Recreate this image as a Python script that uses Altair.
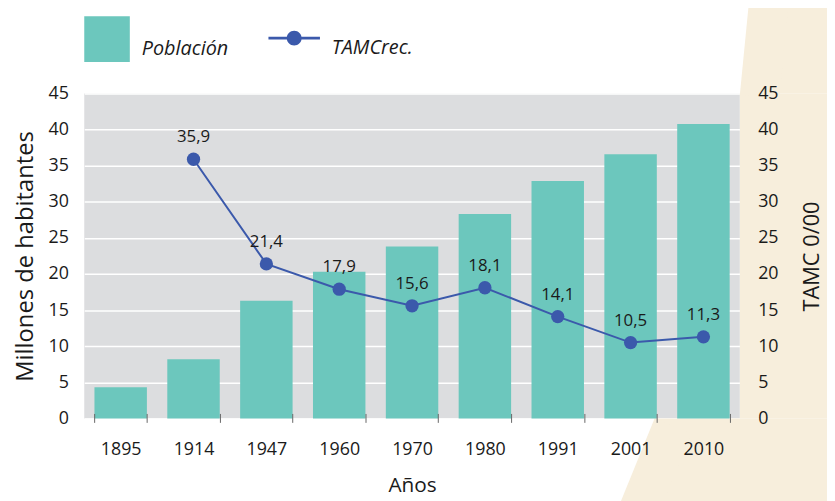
import altair as alt
import pandas as pd

# ---- data ----
years = ["1895", "1914", "1947", "1960", "1970", "1980", "1991", "2001", "2010"]
poblacion = [4.3, 8.2, 16.3, 20.3, 23.8, 28.3, 32.9, 36.6, 40.8]
tamc = [None, 35.9, 21.4, 17.9, 15.6, 18.1, 14.1, 10.5, 11.3]
y_ticks = [0, 5, 10, 15, 20, 25, 30, 35, 40, 45]
serie_barras = "Población"
serie_linea = "TAMCrec."

# ---- styles ----
TEAL = "#6cc7bd"
BLUE = "#3b59ab"
GRAY = "#dcdddf"
BEIGE = "#f7eedc"
INK = "#1a1a1a"
FONT = "Open Sans"
W, H = 662, 328

df = pd.DataFrame({
    "anio": years,
    "poblacion": poblacion,
    "tamc": tamc,
    "s1": serie_barras,
    "s2": serie_linea,
})
one = pd.DataFrame({"k": [0]})

# ---- decorative beige background shape (outside the plot area) ----
deco_right = alt.Chart(one).mark_rect(color=BEIGE).encode(
    x=alt.value(W), x2=alt.value(W + 250), y=alt.value(0), y2=alt.value(H))
deco_top = alt.Chart(one).mark_rect(color=BEIGE).encode(
    x=alt.value(W + 28), x2=alt.value(W + 250), y=alt.value(-120), y2=alt.value(0))
deco_top_edge = alt.Chart(one).mark_rule(color=BEIGE, strokeWidth=40, strokeCap="butt").encode(
    x=alt.value(693), y=alt.value(-110), x2=alt.value(681.9), y2=alt.value(3.1))
deco_bottom = alt.Chart(one).mark_rect(color=BEIGE).encode(
    x=alt.value(576), x2=alt.value(W + 250), y=alt.value(H), y2=alt.value(H + 120))
deco_bottom_edge = alt.Chart(one).mark_rule(color=BEIGE, strokeWidth=40, strokeCap="butt").encode(
    x=alt.value(594.5), y=alt.value(335.5), x2=alt.value(555.8), y2=alt.value(430.5))

# ---- shared x ----
x_enc = alt.X(
    "anio:N", sort=years,
    scale=alt.Scale(paddingInner=0.28, paddingOuter=0.14),
    axis=alt.Axis(
        title="Años", tickBand="extent", domain=False, ticks=True,
        tickColor="#666666", tickSize=9, tickWidth=1, offset=-5,
        labelAngle=0, labelFont=FONT, labelFontSize=18, labelColor=INK,
        labelPadding=18, titleFont=FONT, titleFontSize=21,
        titleFontWeight="normal", titleColor=INK, titlePadding=17,
        grid=False, zindex=1,
    ),
)

bars = alt.Chart(df).mark_bar(color=TEAL).encode(
    x=x_enc,
    y=alt.Y(
        "poblacion:Q",
        scale=alt.Scale(domain=[0, 45], nice=False, zero=True),
        axis=alt.Axis(
            orient="left", values=y_ticks, title="Millones de habitantes",
            domain=False, ticks=False, grid=True, gridColor="white",
            gridWidth=1.5, labelFont=FONT, labelFontSize=18, labelColor=INK,
            labelPadding=16, titleFont=FONT, titleFontSize=24,
            titleFontWeight="normal", titleColor=INK, titlePadding=11,
            zindex=0,
        ),
    ),
    color=alt.Color(
        "s1:N",
        scale=alt.Scale(domain=[serie_barras], range=[TEAL]),
        legend=alt.Legend(
            orient="none", legendX=0, legendY=-78, title=None,
            symbolType="square", symbolSize=2116, symbolStrokeWidth=0,
            symbolOpacity=1, labelFont=FONT, labelFontStyle="italic",
            labelFontSize=20, labelColor=INK, labelOffset=12,
            labelBaseline="top", padding=0,
        ),
    ),
)

y_right = alt.Y(
    "tamc:Q",
    scale=alt.Scale(domain=[0, 45], nice=False, zero=True),
    axis=alt.Axis(
        orient="right", values=y_ticks, title="TAMC 0/00",
        domain=False, ticks=False, grid=False,
        labelFont=FONT, labelFontSize=18, labelColor=INK, labelPadding=18,
        titleFont=FONT, titleFontSize=22, titleFontWeight="normal",
        titleColor=INK, titleAngle=270, titleBaseline="top",
        titlePadding=24, zindex=1,
    ),
)

LEG_PATH = ("M-1,-0.05L1,-0.05L1,0.05L-1,0.05Z "
            "M0.29,0A0.29,0.29,0,1,1,-0.29,0A0.29,0.29,0,1,1,0.29,0Z")

base_line = alt.Chart(df).transform_filter("isValid(datum.tamc)")

line = base_line.mark_line(color=BLUE, strokeWidth=2).encode(x=x_enc, y=y_right)
points = base_line.mark_circle(size=180, opacity=1).encode(
    x=x_enc, y=y_right,
    color=alt.Color(
        "s2:N",
        scale=alt.Scale(domain=[serie_linea], range=[BLUE]),
        legend=alt.Legend(
            orient="none", legendX=186, legendY=-82, title=None,
            symbolType=LEG_PATH, symbolSize=2704, symbolStrokeWidth=0,
            symbolOpacity=1, labelFont=FONT, labelFontStyle="italic",
            labelFontSize=20, labelColor=INK, labelOffset=12,
            labelBaseline="top", padding=0,
        ),
    ),
)
labels = base_line.transform_calculate(
    lab="replace(format(datum.tamc, '.1f'), '.', ',')"
).mark_text(dy=-22, fontSize=17, font=FONT, color=INK).encode(
    x=x_enc, y=y_right, text="lab:N")

line_layer = alt.layer(line, points, labels)

chart = alt.layer(
    deco_right, deco_top, deco_top_edge, deco_bottom, deco_bottom_edge,
    bars, line_layer,
).resolve_scale(
    y="independent", color="independent"
).properties(
    width=W, height=H,
    autosize=alt.AutoSizeParams(type="none"),
    padding={"left": 77, "top": 84, "right": 88, "bottom": 81},
    background="white",
).configure_view(fill=GRAY, stroke=None)

chart.save("out.html", embed_options={"renderer": "svg", "actions": False})
